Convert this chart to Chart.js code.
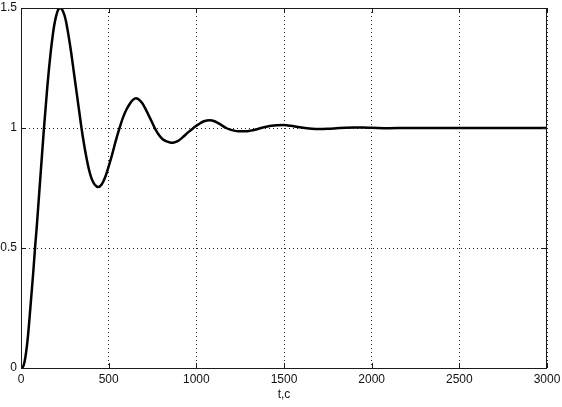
<!DOCTYPE html>
<html>
<head>
<meta charset="utf-8">
<script src="https://cdn.jsdelivr.net/npm/chart.js@4/dist/chart.umd.min.js"></script>
<style>
html,body{margin:0;padding:0;background:#fff;}
#wrap{width:562px;height:407px;position:relative;}
</style>
</head>
<body>
<div id="wrap"><canvas id="c" width="562" height="407"></canvas></div>
<script>
const timeValues = [0,10,20,30,40,50,60,70,80,90,100,110,120,130,140,150,160,170,180,190,200,210,225,240,255,270,285,300,315,330,345,360,375,390,405,420,440,460,480,500,520,540,560,580,600,620,640,655,670,690,710,730,750,770,790,810,830,850,865,880,900,920,940,960,980,1000,1020,1040,1060,1075,1090,1110,1130,1150,1170,1190,1210,1230,1250,1280,1310,1340,1370,1400,1430,1460,1500,1540,1580,1620,1660,1700,1750,1800,1850,1900,1950,2000,2100,2200,2300,2500,2750,3000];
const responseValues = [0,0.003,0.025,0.07,0.135,0.22,0.31,0.40,0.50,0.59,0.69,0.79,0.89,0.99,1.08,1.17,1.25,1.32,1.38,1.43,1.465,1.49,1.50,1.485,1.45,1.39,1.32,1.24,1.16,1.08,1.00,0.93,0.87,0.82,0.785,0.765,0.754,0.765,0.795,0.84,0.89,0.945,0.995,1.04,1.075,1.10,1.118,1.124,1.12,1.105,1.08,1.05,1.02,0.99,0.968,0.952,0.944,0.94,0.939,0.941,0.948,0.96,0.973,0.986,0.998,1.009,1.019,1.027,1.031,1.032,1.031,1.026,1.018,1.009,1.0,0.994,0.99,0.987,0.986,0.986,0.989,0.994,1.0,1.005,1.009,1.011,1.012,1.009,1.004,1.0,0.997,0.996,0.997,0.999,1.001,1.002,1.002,1.001,0.999,1.0,1.0,1.0,1.0,1.0];
const xTicks = [0,500,1000,1500,2000,2500,3000];
const yTicks = [0,0.5,1,1.5];
const yTickLabels = ['0','0.5','1','1.5'];
const xTitle = 't,c';

const FONT = "'Liberation Sans', Arial, sans-serif";

const boxPlugin = {
  id: 'box',
  afterDatasetsDraw(chart) {
    const {ctx, chartArea: a, scales} = chart;
    ctx.save();
    ctx.strokeStyle = '#1a1a1a';
    ctx.lineWidth = 1;
    ctx.strokeRect(a.left + 0.5, a.top + 0.5, a.right - a.left - 1, a.bottom - a.top);
    ctx.beginPath();
    xTicks.forEach(v => {
      const px = Math.round(scales.x.getPixelForValue(v)) + 0.5;
      ctx.moveTo(px, a.bottom); ctx.lineTo(px, a.bottom - 5);
      ctx.moveTo(px, a.top); ctx.lineTo(px, a.top + 5);
    });
    yTicks.forEach(v => {
      const py = Math.round(scales.y.getPixelForValue(v)) + 0.5;
      ctx.moveTo(a.left, py); ctx.lineTo(a.left + 5, py);
      ctx.moveTo(a.right, py); ctx.lineTo(a.right - 5, py);
    });
    ctx.stroke();
    ctx.restore();
  }
};

new Chart(document.getElementById('c'), {
  type: 'line',
  data: {
    datasets: [{
      data: timeValues.map((t, i) => ({x: t, y: responseValues[i]})),
      borderColor: '#000',
      borderWidth: 2.5,
      pointRadius: 0,
      fill: false,
      cubicInterpolationMode: 'monotone'
    }]
  },
  options: {
    responsive: false,
    animation: false,
    devicePixelRatio: 1,
    layout: {padding: {left: 0, right: 15, top: 8, bottom: 0}},
    plugins: {legend: {display: false}, tooltip: {enabled: false}},
    scales: {
      x: {
        type: 'linear',
        min: 0, max: 3000,
        afterBuildTicks(s) { s.ticks = xTicks.map(v => ({value: v})); },
        afterFit(s) { s.height = 39; s.paddingLeft = 0; s.paddingRight = 0; },
        ticks: {
          color: '#111',
          font: {family: FONT, size: 12},
          padding: 4,
          maxRotation: 0,
          autoSkip: false,
          callback: v => String(v)
        },
        grid: {
          color: '#222',
          lineWidth: 1,
          drawTicks: false,
          tickLength: 0
        },
        border: {display: false, dash: [1, 3]},
        title: {
          display: true,
          text: xTitle,
          color: '#111',
          font: {family: FONT, size: 12},
          padding: {top: 0, bottom: 5}
        }
      },
      y: {
        type: 'linear',
        min: 0, max: 1.5,
        afterBuildTicks(s) { s.ticks = yTicks.map(v => ({value: v})); },
        afterFit(s) { s.width = 21; s.paddingTop = 0; s.paddingBottom = 0; },
        ticks: {
          color: '#111',
          font: {family: FONT, size: 12},
          padding: 4,
          autoSkip: false,
          callback: (v) => yTickLabels[yTicks.indexOf(v)]
        },
        grid: {
          color: '#222',
          lineWidth: 1,
          drawTicks: false,
          tickLength: 0
        },
        border: {display: false, dash: [1, 3]}
      }
    }
  },
  plugins: [boxPlugin]
});
</script>
</body>
</html>
